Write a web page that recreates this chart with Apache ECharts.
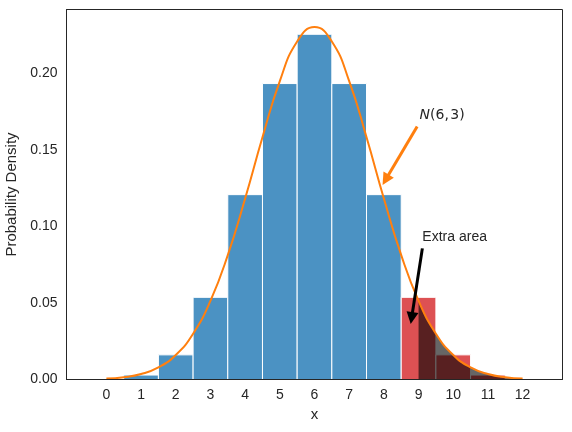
<!DOCTYPE html>
<html>
<head>
<meta charset="utf-8">
<script src="https://cdn.jsdelivr.net/npm/echarts@6/dist/echarts.min.js"></script>
<style>
  html, body { margin: 0; padding: 0; background: #fff; }
  #main { width: 572px; height: 432px; }
</style>
</head>
<body>
<div id="main"></div>
<script>
// bars: probability of k
const kValues = [0, 1, 2, 3, 4, 5, 6, 7, 8, 9, 10, 11, 12];
const probValues = [0.0002, 0.0029, 0.0161, 0.0537, 0.1208, 0.1934, 0.2256, 0.1934, 0.1208, 0.0537, 0.0161, 0.0029, 0.0002];
const tailFrom = 9; // red bars + shaded area start here

// the orange curve N(6, 3)
const curveX = [0, 0.5, 1, 1.5, 2, 2.5, 3, 3.5, 4, 4.5, 5, 5.5, 6, 6.5, 7, 7.5, 8, 8.5, 9, 9.5, 10, 10.5, 11, 11.5, 12];
const curveY = [0.0006, 0.0015, 0.0036, 0.0079, 0.0160, 0.0299, 0.0514, 0.0813, 0.1183, 0.1583, 0.1950, 0.2209, 0.2303,
                0.2209, 0.1950, 0.1583, 0.1183, 0.0813, 0.0514, 0.0299, 0.0160, 0.0079, 0.0036, 0.0015, 0.0006];

const xTicks = [0, 1, 2, 3, 4, 5, 6, 7, 8, 9, 10, 11, 12];
const yTicks = [0, 0.05, 0.10, 0.15, 0.20];

const textColor = '#262626';
const fontFamily = '"Liberation Sans", Arial, sans-serif';

function renderBar(params, api) {
  var k = api.value(0);
  var p = api.value(1);
  var topLeft = api.coord([k - 0.5, p]);
  var bottomRight = api.coord([k + 0.5, 0]);
  return {
    type: 'rect',
    shape: {
      x: topLeft[0],
      y: topLeft[1],
      width: bottomRight[0] - topLeft[0],
      height: bottomRight[1] - topLeft[1]
    },
    style: {
      fill: k >= tailFrom ? '#dd5153' : '#4b92c3',
      stroke: '#ffffff',
      lineWidth: 1
    }
  };
}

function setOption(chart) {
  var barData = kValues.map((k, i) => [k, probValues[i]]);
  var curveData = curveX.map((x, i) => [x, curveY[i]]);
  var tailData = curveData.filter(d => d[0] >= tailFrom);

  var option = {
    backgroundColor: '#ffffff',
    animation: false,
    grid: {
      left: 66.5, right: 9.5, top: 9.5, bottom: 52.5,
      show: true,
      borderColor: textColor,
      borderWidth: 1,
      outerBoundsMode: 'none'
    },
    xAxis: {
      type: 'value',
      min: -1.15,
      max: 13.15,
      z: 10,
      name: 'x',
      nameLocation: 'middle',
      nameGap: 27,
      nameTextStyle: { color: textColor, fontSize: 15, fontFamily: fontFamily },
      axisLine: { show: true, onZero: false, lineStyle: { color: textColor, width: 1 } },
      axisTick: { show: false },
      splitLine: { show: false },
      axisLabel: {
        customValues: xTicks,
        color: textColor,
        fontSize: 14,
        fontFamily: fontFamily,
        margin: 9
      }
    },
    yAxis: {
      type: 'value',
      min: 0,
      max: 0.2418,
      z: 10,
      name: 'Probability Density',
      nameLocation: 'middle',
      nameGap: 38,
      nameTextStyle: { color: textColor, fontSize: 15, fontFamily: fontFamily },
      axisLine: { show: true, onZero: false, lineStyle: { color: textColor, width: 1 } },
      axisTick: { show: false },
      splitLine: { show: false },
      axisLabel: {
        customValues: yTicks,
        formatter: v => v.toFixed(2),
        color: textColor,
        fontSize: 14,
        fontFamily: fontFamily,
        margin: 9
      }
    },
    series: [
      {
        name: 'bars',
        type: 'custom',
        renderItem: renderBar,
        encode: { x: 0, y: 1 },
        data: barData,
        z: 1
      },
      {
        name: 'tail',
        type: 'line',
        data: tailData,
        smooth: true,
        showSymbol: false,
        lineStyle: { width: 0, opacity: 0 },
        areaStyle: { color: '#000000', opacity: 0.6 },
        z: 2
      },
      {
        name: 'normal',
        type: 'line',
        data: curveData,
        smooth: true,
        showSymbol: false,
        lineStyle: { color: '#ff7f0e', width: 2 },
        z: 3
      },
      {
        name: 'notes',
        type: 'line',
        data: [],
        z: 4,
        markLine: {
          silent: true,
          animation: false,
          label: { show: false },
          data: [
            [
              { coord: [8.96, 0.1654], symbol: 'none', lineStyle: { color: '#ff7f0e', width: 3, type: 'solid' } },
              { coord: [8.05, 0.1305], symbol: 'triangle', symbolSize: 12, itemStyle: { color: '#ff7f0e' } }
            ],
            [
              { coord: [9.11, 0.0857], symbol: 'none', lineStyle: { color: '#000000', width: 3, type: 'solid' } },
              { coord: [8.80, 0.0402], symbol: 'triangle', symbolSize: 12, itemStyle: { color: '#000000', borderColor: '#ffffff', borderWidth: 1 } }
            ]
          ]
        },
        markPoint: {
          silent: true,
          animation: false,
          symbol: 'circle',
          symbolSize: 0,
          label: {
            show: true,
            position: 'right',
            distance: 0,
            color: textColor,
            fontSize: 14,
            fontFamily: fontFamily
          },
          data: [
            {
              coord: [9.03, 0.1725],
              label: {
                formatter: '{i|N}{r|(6,\u200a3)}',
                rich: {
                  i: { fontFamily: '"DejaVu Sans"', fontStyle: 'italic', fontSize: 14, color: textColor },
                  r: { fontFamily: '"DejaVu Sans"', fontSize: 14, color: textColor }
                }
              }
            },
            {
              coord: [9.11, 0.0931],
              label: { formatter: 'Extra area' }
            }
          ]
        }
      }
    ]
  };
  chart.setOption(option);
}

var chart = echarts.init(document.getElementById('main'), null, { renderer: 'canvas' });
setOption(chart);
</script>
</body>
</html>
